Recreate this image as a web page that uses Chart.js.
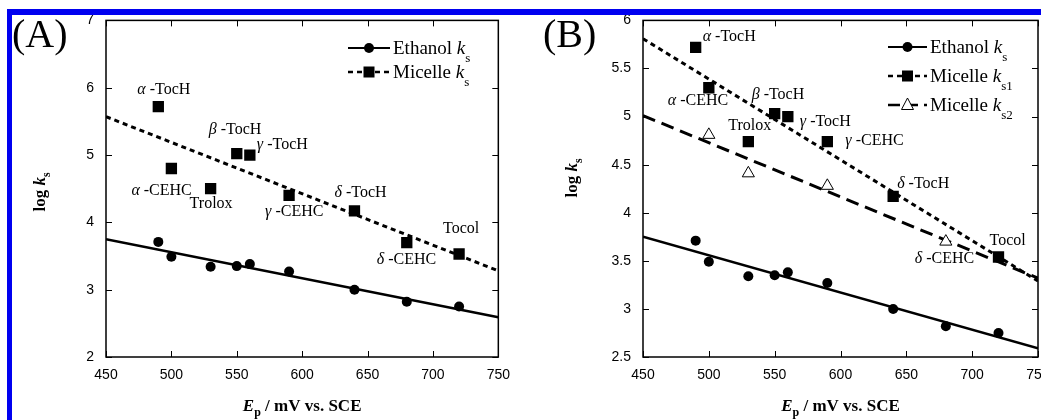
<!DOCTYPE html>
<html>
<head>
<meta charset="utf-8">
<script src="https://cdn.jsdelivr.net/npm/chart.js@4.4.0/dist/chart.umd.min.js"></script>
<style>
  body { margin: 0; width: 1041px; height: 420px; overflow: hidden; background: #fff; position: relative; }
  canvas { position: absolute; top: 0; }
  #chartA { left: 0; }
  #chartB { left: 520px; }
  .blue { position: absolute; background: #0000f0; z-index: 5; }
</style>
</head>
<body>
<canvas id="chartA" width="520" height="420"></canvas>
<canvas id="chartB" width="540" height="420"></canvas>
<div class="blue" style="left:7px;top:9px;width:1034px;height:6px"></div>
<div class="blue" style="left:7px;top:9px;width:5px;height:411px"></div>
<script>
// oxidation potential Ep (mV vs SCE) of each compound
const ep = [490, 500, 530, 550, 560, 590, 640, 680, 720];
const compounds = ['α-TocH', 'α-CEHC', 'Trolox', 'β-TocH', 'γ-TocH', 'γ-CEHC', 'δ-TocH', 'δ-CEHC', 'Tocol'];
const ethanolKs = [3.71, 3.49, 3.34, 3.35, 3.38, 3.27, 3.0, 2.82, 2.75];
const micelleKs = [5.72, 4.8, 4.5, 5.02, 5.0, 4.4, 4.17, 3.7, 3.53];

// panel B, micelle split in two series
const epKs1 = [490, 500, 530, 550, 560, 590, 640, 720];
const compoundsKs1 = ['α-TocH', 'α-CEHC', 'Trolox', 'β-TocH', 'γ-TocH', 'γ-CEHC', 'δ-TocH', 'Tocol'];
const micelleKs1 = [5.72, 5.3, 4.74, 5.03, 5.0, 4.74, 4.17, 3.54];
const epKs2 = [500, 530, 590, 680];
const compoundsKs2 = ['', '', '', 'δ-CEHC'];
const micelleKs2 = [4.81, 4.41, 4.28, 3.7];

// regression lines, read at both ends of the x range
const fitX = [450, 750];
const ethanolFit = [3.75, 2.59];
const micelleFit = [5.57, 3.28];
const ks1Fit = [5.81, 3.29];
const ks2Fit = [5.01, 3.32];

// axis ticks
const xTicks = [450, 500, 550, 600, 650, 700, 750];
const yTicksA = [2, 3, 4, 5, 6, 7];
const yTicksB = [2.5, 3, 3.5, 4, 4.5, 5, 5.5, 6];

// where each name sits next to its point (px)
const offA = [[-21, -13], [-40, 26], [-21, 19], [-28, -20], [7, -6], [-24, 21], [-20, -14], [-30, 21], [-16, -21]];
const offB1 = [[7, -6], [-41, 17], [-20, -12], [-23, -15], [12, 9], [18, 3], [4, -8], [-9, -12]];
const offB2 = [null, null, null, [-31, 21]];

const SERIF = '"Liberation Serif", "Times New Roman", serif';
const pts = (xs, ys) => xs.map((x, i) => ({ x: x, y: ys[i] }));

function runsWidth(ctx, runs) {
  let w = 0;
  runs.forEach(r => { ctx.font = r.f; w += ctx.measureText(r.t).width; });
  return w;
}
function drawRuns(ctx, runs, x, y) {
  runs.forEach(r => {
    ctx.font = r.f;
    ctx.fillText(r.t, x, y + (r.dy || 0));
    x += ctx.measureText(r.t).width;
  });
}
function nameRuns(name) {
  if (/^[αβγδ]/.test(name)) {
    return [{ t: name[0], f: 'italic 16px ' + SERIF }, { t: ' -' + name.slice(2), f: '16px ' + SERIF }];
  }
  return [{ t: name, f: '16px ' + SERIF }];
}
function kRuns(label, sub) {
  return [
    { t: label + ' ', f: '19px ' + SERIF },
    { t: 'k', f: 'italic 19px ' + SERIF },
    { t: sub, f: '13px ' + SERIF, dy: 8 }
  ];
}

function drawMarker(ctx, kind, x, y) {
  ctx.beginPath();
  if (kind === 'circle') {
    ctx.arc(x, y, 5, 0, Math.PI * 2);
    ctx.fill();
  } else if (kind === 'rect') {
    ctx.fillRect(x - 5.5, y - 5.5, 11, 11);
  } else {
    ctx.moveTo(x, y - 7); ctx.lineTo(x + 6, y + 4.5); ctx.lineTo(x - 6, y + 4.5); ctx.closePath();
    ctx.fillStyle = '#fff'; ctx.fill();
    ctx.lineWidth = 1; ctx.setLineDash([]); ctx.stroke();
    ctx.fillStyle = '#000';
  }
}

// box, inward ticks, names, legend, titles
function decorPlugin(cfg) {
  return {
    id: 'decor',
    afterDraw(chart) {
      const { ctx, chartArea: a, scales: { x, y } } = chart;
      ctx.save();
      ctx.strokeStyle = '#000';
      ctx.fillStyle = '#000';
      ctx.lineWidth = 1.5;
      ctx.strokeRect(a.left, a.top, a.right - a.left, a.bottom - a.top);
      ctx.lineWidth = 1;
      ctx.beginPath();
      xTicks.forEach(v => {
        const px = Math.round(x.getPixelForValue(v)) + 0.5;
        ctx.moveTo(px, a.bottom); ctx.lineTo(px, a.bottom - 6);
        ctx.moveTo(px, a.top); ctx.lineTo(px, a.top + 6);
      });
      cfg.yTicks.forEach(v => {
        const py = Math.round(y.getPixelForValue(v)) + 0.5;
        ctx.moveTo(a.left, py); ctx.lineTo(a.left + 6, py);
        ctx.moveTo(a.right, py); ctx.lineTo(a.right - 6, py);
      });
      ctx.stroke();

      // compound names
      ctx.textBaseline = 'alphabetic';
      cfg.names.forEach(set => {
        set.xs.forEach((v, i) => {
          const off = set.off[i];
          if (!off || !set.names[i]) return;
          const px = x.getPixelForValue(v) + off[0];
          const py = y.getPixelForValue(set.ys[i]) + off[1];
          drawRuns(ctx, nameRuns(set.names[i]), px, py);
        });
      });

      // legend
      cfg.legend.rows.forEach((row, i) => {
        const ly = cfg.legend.y[i];
        const { x0, x1, tx } = cfg.legend;
        ctx.beginPath();
        ctx.lineWidth = row.width;
        ctx.setLineDash(row.dash);
        ctx.moveTo(x0, ly); ctx.lineTo(x1, ly);
        ctx.stroke();
        ctx.setLineDash([]);
        drawMarker(ctx, row.marker, (x0 + x1) / 2, ly);
        drawRuns(ctx, row.text, tx, ly + 6);
      });

      // panel letter
      ctx.font = '40px ' + SERIF;
      ctx.fillText(cfg.letter, cfg.letterX, 47);

      // x title
      const xt = [
        { t: 'E', f: 'bold italic 17px ' + SERIF },
        { t: 'p', f: 'bold 12px ' + SERIF, dy: 5 },
        { t: ' / mV vs. SCE', f: 'bold 17px ' + SERIF }
      ];
      const cx = (a.left + a.right) / 2;
      drawRuns(ctx, xt, cx - runsWidth(ctx, xt) / 2, 411);

      // y title
      const yt = [
        { t: 'log ', f: 'bold 17px ' + SERIF },
        { t: 'k', f: 'bold italic 17px ' + SERIF },
        { t: 's', f: 'bold 12px ' + SERIF, dy: 5 }
      ];
      ctx.translate(cfg.yTitleX, cfg.yTitleY);
      ctx.rotate(-Math.PI / 2);
      drawRuns(ctx, yt, -runsWidth(ctx, yt) / 2, 0);
      ctx.restore();
    }
  };
}

function scatter(data, style, order) {
  return Object.assign({
    type: 'scatter', data: data, showLine: false, order: order,
    borderWidth: 0, backgroundColor: '#000', borderColor: '#000'
  }, style);
}
function fitLine(ys, dash, width) {
  return {
    type: 'line', data: pts(fitX, ys), borderColor: '#000', borderWidth: width,
    borderDash: dash, pointRadius: 0, fill: false, order: 10, tension: 0
  };
}

function makeChart(id, cfg) {
  return new Chart(document.getElementById(id), {
    type: 'scatter',
    data: { datasets: cfg.datasets },
    options: {
      responsive: false,
      animation: false,
      events: [],
      layout: { padding: { top: 18, right: cfg.padRight, left: 0, bottom: 0 } },
      plugins: { legend: { display: false }, tooltip: { enabled: false } },
      scales: {
        x: {
          type: 'linear', min: 450, max: 750,
          afterBuildTicks: s => { s.ticks = xTicks.map(v => ({ value: v })); },
          afterFit: s => { s.height = 63; },
          grid: { display: false, drawTicks: false },
          border: { display: false },
          ticks: { color: '#000', padding: 10, maxRotation: 0, font: { family: '"Liberation Sans", Arial, sans-serif', size: 14 }, callback: v => v }
        },
        y: {
          type: 'linear', min: cfg.yMin, max: cfg.yMax,
          afterBuildTicks: s => { s.ticks = cfg.yTicks.map(v => ({ value: v })); },
          afterFit: s => { s.width = cfg.yWidth; },
          grid: { display: false, drawTicks: false },
          border: { display: false },
          ticks: { color: '#000', padding: 12, font: { family: '"Liberation Sans", Arial, sans-serif', size: 14 }, callback: v => v }
        }
      }
    },
    plugins: [decorPlugin(cfg)]
  });
}

const circle = { pointStyle: 'circle', pointRadius: 5 };
const square = { pointStyle: 'rect', pointRadius: 8 };
const triangle = { pointStyle: 'triangle', pointRadius: 7, backgroundColor: '#fff', borderWidth: 1 };

makeChart('chartA', {
  yMin: 2, yMax: 7, yTicks: yTicksA, yWidth: 106, padRight: 17,
  letter: '(A)', letterX: 12, yTitleX: 45, yTitleY: 192,
  datasets: [
    scatter(pts(ep, ethanolKs), circle, 1),
    scatter(pts(ep, micelleKs), square, 2),
    fitLine(ethanolFit, [], 2.5),
    fitLine(micelleFit, [5, 4], 3)
  ],
  names: [{ xs: ep, ys: micelleKs, names: compounds, off: offA }],
  legend: {
    x0: 348, x1: 390, tx: 393, y: [48, 72],
    rows: [
      { dash: [], width: 2, marker: 'circle', text: kRuns('Ethanol', 's') },
      { dash: [5, 4], width: 2.5, marker: 'rect', text: kRuns('Micelle', 's') }
    ]
  }
});

makeChart('chartB', {
  yMin: 2.5, yMax: 6, yTicks: yTicksB, yWidth: 123, padRight: 22,
  letter: '(B)', letterX: 23, yTitleX: 57, yTitleY: 178,
  datasets: [
    scatter(pts(ep, ethanolKs), circle, 1),
    scatter(pts(epKs1, micelleKs1), square, 2),
    scatter(pts(epKs2, micelleKs2), triangle, 3),
    fitLine(ethanolFit, [], 2.5),
    fitLine(ks1Fit, [5, 4], 3),
    fitLine(ks2Fit, [13, 7], 3)
  ],
  names: [
    { xs: epKs1, ys: micelleKs1, names: compoundsKs1, off: offB1 },
    { xs: epKs2, ys: micelleKs2, names: compoundsKs2, off: offB2 }
  ],
  legend: {
    x0: 368, x1: 407, tx: 410, y: [47, 76, 105],
    rows: [
      { dash: [], width: 2, marker: 'circle', text: kRuns('Ethanol', 's') },
      { dash: [5, 4], width: 2.5, marker: 'rect', text: kRuns('Micelle', 's1') },
      { dash: [12, 6], width: 2.5, marker: 'triangle', text: kRuns('Micelle', 's2') }
    ]
  }
});
</script>
</body>
</html>
